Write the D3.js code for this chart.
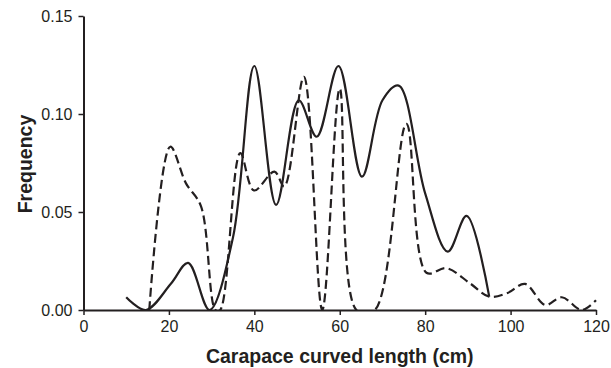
<!DOCTYPE html>
<html>
<head>
<meta charset="utf-8">
<script src="https://cdn.jsdelivr.net/npm/d3@7"></script>
<style>
  body { margin: 0; background: #fff; }
</style>
</head>
<body>
<div id="svg-container"></div>
<script>
// Carapace lengths (cm) and frequencies
const solidLength = [10, 14.6, 20.5, 24.5, 29.5, 35, 40, 45.1, 50.4, 54.6, 59.7, 65.2, 70, 73.8, 80, 85.3, 89.7, 95];
const solidFreq   = [0.0065, 0, 0.0135, 0.024, 0, 0.037, 0.1245, 0.0536, 0.107, 0.0884, 0.1245, 0.068, 0.107, 0.1145, 0.0595, 0.0298, 0.048, 0.0068];

const dashedLength = [15.4, 20.3, 24, 27.5, 30.9, 32, 36.7, 39.9, 44.7, 47, 51.6, 55.9, 60, 63.9, 68.2, 75.6, 80.3, 85, 90.5, 95, 99.1, 103.4, 108.1, 112, 116.7, 120];
const dashedFreq   = [0, 0.0833, 0.0646, 0.053, 0, 0, 0.080, 0.061, 0.0706, 0.063, 0.119, 0, 0.113, 0, 0, 0.095, 0.019, 0.0213, 0.0136, 0.0068, 0.0085, 0.0133, 0.0026, 0.0065, 0, 0.005];

const xTicks = [0, 20, 40, 60, 80, 100, 120];
const yTicks = [0, 0.05, 0.10, 0.15];

// Constant dimensions
const width = 611,
      height = 368,
      margin = { top: 16, right: 15, bottom: 58, left: 83.5 },
      ink = "#231f20";

const x = d3.scaleLinear([0, 120], [margin.left, width - margin.right]);
const y = d3.scaleLinear([0, 0.15], [height - margin.bottom, margin.top]);

const svg = d3.select("#svg-container").append("svg")
        .attr("width", width)
        .attr("height", height)
        .attr("font-family", "'Liberation Sans', Arial, sans-serif");

// Clip the smoothed lines to the plot area (nothing below zero)
svg.append("clipPath")
    .attr("id", "plot")
  .append("rect")
    .attr("x", margin.left)
    .attr("y", margin.top - 5)
    .attr("width", width - margin.left - margin.right + 5)
    .attr("height", y(0) - margin.top + 5);

const line = d3.line()
        .x(d => x(d[0]))
        .y(d => y(d[1]))
        .curve(d3.curveCatmullRom.alpha(0.5));

const series = [
    { pts: d3.zip(solidLength, solidFreq), dash: null },
    { pts: d3.zip(dashedLength, dashedFreq), dash: "9,4.5" }
];

svg.append("g")
    .attr("clip-path", "url(#plot)")
    .attr("fill", "none")
    .attr("stroke", ink)
    .attr("stroke-width", 2.2)
  .selectAll("path")
  .data(series)
  .join("path")
    .attr("stroke-dasharray", d => d.dash)
    .attr("d", d => line(d.pts));

// Axes
const xAxis = svg.append("g")
        .attr("transform", `translate(0,${y(0)})`)
        .call(d3.axisBottom(x).tickValues(xTicks).tickSize(5).tickSizeOuter(0).tickPadding(6));

const yAxis = svg.append("g")
        .attr("transform", `translate(${margin.left},0)`)
        .call(d3.axisLeft(y).tickValues(yTicks).tickFormat(d3.format(".2f"))
              .tickSize(5).tickSizeOuter(0).tickPadding(6));

[xAxis, yAxis].forEach(function(g) {
    g.select(".domain").attr("stroke", ink).attr("stroke-width", 2);
    g.selectAll(".tick line").attr("stroke", ink).attr("stroke-width", 1.5);
    g.selectAll(".tick text")
        .attr("fill", ink)
        .attr("font-size", 16)
        .attr("font-family", "'Liberation Sans', Arial, sans-serif");
});

// Axis titles
svg.append("text")
    .attr("x", (x(0) + x(120)) / 2)
    .attr("y", 363)
    .attr("text-anchor", "middle")
    .attr("font-size", 19.5)
    .attr("font-weight", "bold")
    .attr("fill", ink)
    .text("Carapace curved length (cm)");

svg.append("text")
    .attr("transform", "translate(32,164) rotate(-90)")
    .attr("text-anchor", "middle")
    .attr("font-size", 19.5)
    .attr("font-weight", "bold")
    .attr("fill", ink)
    .text("Frequency");
</script>
</body>
</html>
